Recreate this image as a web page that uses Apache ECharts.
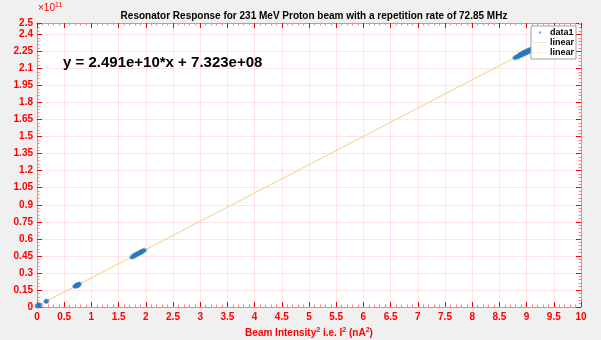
<!DOCTYPE html>
<html>
<head>
<meta charset="utf-8">
<script src="https://cdn.jsdelivr.net/npm/echarts@6/dist/echarts.min.js"></script>
<style>
  html, body { margin: 0; padding: 0; background: #f0f0f0; }
  #chart { width: 601px; height: 340px; }
</style>
</head>
<body>
<div id="chart"></div>
<script>
// Measured beam intensity squared (nA^2) and resonator DDC^2 readings
const beamIntensitySq = [
  0.005, 0.01, 0.02, 0.03, 0.04, 0.05, 0.165, 0.17, 0.18,
  0.69, 0.71, 0.72, 0.72, 0.73, 0.74, 0.74, 0.75, 0.76, 0.76, 0.77, 0.78,
  1.74, 1.76, 1.77, 1.78, 1.79, 1.80, 1.81, 1.82, 1.83, 1.84, 1.85, 1.86, 1.87,
  1.88, 1.89, 1.90, 1.91, 1.92, 1.93, 1.94, 1.96, 1.98,
  8.78, 8.80, 8.82, 8.84, 8.85, 8.86, 8.87, 8.88, 8.89, 8.90, 8.90, 8.91, 8.92,
  8.93, 8.93, 8.94, 8.95, 8.95, 8.96, 8.97, 8.97, 8.98, 8.99, 8.99, 9.00, 9.01,
  9.01, 9.02, 9.03, 9.03, 9.04, 9.05, 9.05, 9.06, 9.07, 9.08, 9.09, 9.10, 9.11, 9.12
];
const ddcSq = [
  0.008e11, 0.010e11, 0.012e11, 0.015e11, 0.017e11, 0.020e11, 0.049e11, 0.050e11, 0.052e11,
  0.181e11, 0.185e11, 0.186e11, 0.189e11, 0.190e11, 0.186e11, 0.192e11, 0.194e11, 0.196e11, 0.197e11, 0.200e11, 0.202e11,
  0.437e11, 0.446e11, 0.443e11, 0.452e11, 0.449e11, 0.455e11, 0.458e11, 0.461e11, 0.463e11, 0.466e11, 0.468e11, 0.470e11, 0.473e11,
  0.476e11, 0.478e11, 0.480e11, 0.484e11, 0.486e11, 0.488e11, 0.491e11, 0.496e11, 0.500e11,
  2.193e11, 2.196e11, 2.205e11, 2.199e11, 2.212e11, 2.208e11, 2.221e11, 2.215e11, 2.219e11, 2.226e11, 2.214e11, 2.230e11, 2.225e11,
  2.236e11, 2.221e11, 2.233e11, 2.241e11, 2.228e11, 2.238e11, 2.245e11, 2.232e11, 2.242e11, 2.250e11, 2.236e11, 2.247e11, 2.255e11,
  2.241e11, 2.252e11, 2.259e11, 2.246e11, 2.256e11, 2.262e11, 2.250e11, 2.259e11, 2.266e11, 2.261e11, 2.270e11, 2.266e11, 2.274e11, 2.279e11
];

// Linear fit coefficients
const fitSlope = 2.491e10;
const fitIntercept = 7.323e8;
const fitRange = [0, 10];

// Axis settings
const xMin = 0, xMax = 10, xStep = 0.5;
const yMin = 0, yMax = 2.5e11, yStep = 1.5e10;
const yExponent = 1e11;

const titleText = 'Resonator Response for 231 MeV Proton beam with a repetition rate of 72.85 MHz';
const equationText = 'y = 2.491e+10*x + 7.323e+08';

const scatterPoints = beamIntensitySq.map((x, i) => [x, ddcSq[i]]);
const fitLine = fitRange.map(x => [x, fitSlope * x + fitIntercept]);

const RED = '#ff0000';
const AXIS_RED = '#ff8080';
const GRID_RED = 'rgba(255,0,0,0.1)';
const FONT = '"Liberation Sans", Arial, sans-serif';

const chart = echarts.init(document.getElementById('chart'), null, { renderer: 'canvas' });

const tickCommon = {
  axisLine: { show: true, onZero: false, lineStyle: { color: AXIS_RED, width: 1 } },
  axisTick: { show: true, inside: true, length: 5, lineStyle: { color: RED, width: 1 } },
  minorTick: { show: true, splitNumber: 5, length: 2.5, lineStyle: { color: AXIS_RED, width: 1 } }
};

const asterisk = 'path://M0,-10L0,10M-10,0L10,0M-7,-7L7,7M-7,7L7,-7';
// legend icons: a thin centred stroke, with tiny corner specks fixing the bounding box
const lineIcon = 'path://M0,0L0.01,0L0.01,0.01Z M0,4.5L20,4.5L20,5.5L0,5.5Z M19.99,9.99L20,9.99L20,10L19.99,10Z';
const dotIcon = 'path://M0,0L0.01,0L0.01,0.01Z M8.5,3.5L11.5,3.5L11.5,6.5L8.5,6.5Z M19.99,9.99L20,9.99L20,10L19.99,10Z';

chart.setOption({
  animation: false,
  backgroundColor: '#f0f0f0',
  title: {
    text: titleText,
    left: 309, textAlign: 'center',
    top: 6,
    textStyle: { fontFamily: FONT, fontSize: 10, fontWeight: 'bold', color: '#000' }
  },
  grid: {
    left: 37, right: 20, top: 23, bottom: 33,
    containLabel: false, outerBoundsMode: 'none',
    show: true, backgroundColor: '#fff', borderWidth: 0
  },
  legend: {
    orient: 'vertical',
    right: 25, top: 26,
    backgroundColor: '#fff',
    borderColor: '#a0a0a0', borderWidth: 1, borderRadius: 0,
    padding: [2, 2, 2, 2],
    itemGap: 1, itemWidth: 14, itemHeight: 8,
    data: [
      { name: 'data1', icon: dotIcon, itemStyle: { color: '#4a90d0', borderWidth: 0 } },
      { name: 'linear1', icon: lineIcon, itemStyle: { color: '#f7cd8a', borderWidth: 0 } },
      { name: 'linear2', icon: lineIcon, itemStyle: { color: '#f9dba6', borderWidth: 0 } }
    ],
    formatter: n => (n === 'data1' ? 'data1' : 'linear'),
    textStyle: { fontFamily: FONT, fontSize: 9, fontWeight: 'bold', color: '#000', padding: [0, 0, 0, -2] }
  },
  xAxis: [
    Object.assign({
      type: 'value', min: xMin, max: xMax, interval: xStep, position: 'bottom',
      name: '{t|Beam Intensity}{s|2}{t| i.e. I}{s|2}{t| (nA}{s|2}{t|)}',
      nameLocation: 'middle', nameGap: 19,
      nameTextStyle: {
        rich: {
          t: { fontFamily: FONT, fontSize: 10, fontWeight: 'bold', color: RED },
          s: { fontFamily: FONT, fontSize: 7, fontWeight: 'bold', color: RED, verticalAlign: 'top', padding: [0, 0, 6, 0] }
        }
      },
      axisLabel: { color: RED, fontFamily: FONT, fontSize: 10, fontWeight: 'bold', margin: 5 },
      splitLine: { show: true, lineStyle: { color: GRID_RED, width: 1 } }
    }, tickCommon),
    Object.assign({
      type: 'value', min: xMin, max: xMax, interval: xStep, position: 'top',
      axisLabel: { show: false }, splitLine: { show: false }
    }, tickCommon)
  ],
  yAxis: [
    Object.assign({
      type: 'value', min: yMin, max: yMax, interval: yStep, position: 'left',
      name: '{t|DDC}{s|2}',
      nameLocation: 'middle', nameGap: 20, nameRotate: 90,
      nameTextStyle: {
        rich: {
          t: { fontFamily: FONT, fontSize: 10, fontWeight: 'bold', color: RED },
          s: { fontFamily: FONT, fontSize: 7, fontWeight: 'bold', color: RED, verticalAlign: 'top', padding: [0, 0, 6, 0] }
        }
      },
      axisLabel: {
        color: RED, fontFamily: FONT, fontSize: 10, fontWeight: 'bold', margin: 4,
        formatter: v => (v === 0 ? '0' : String(+(v / yExponent).toFixed(2)))
      },
      splitLine: { show: true, lineStyle: { color: GRID_RED, width: 1 } }
    }, tickCommon),
    Object.assign({
      type: 'value', min: yMin, max: yMax, interval: yStep, position: 'right',
      axisLabel: { show: false }, splitLine: { show: false }
    }, tickCommon)
  ],
  graphic: [
    {
      type: 'text', left: 38, top: 2,
      style: {
        text: '{t|×10}{s|11}',
        rich: {
          t: { fontFamily: FONT, fontSize: 10, fill: RED, fontWeight: 'normal' },
          s: { fontFamily: FONT, fontSize: 7, fill: RED, verticalAlign: 'top', padding: [0, 0, 5, 0] }
        }
      }
    },
    {
      type: 'text', left: 63, top: 55,
      style: { text: equationText, fontFamily: FONT, fontSize: 15, fontWeight: 'bold', fill: '#000' }
    }
  ],
  series: [
    {
      name: 'data1', type: 'scatter', xAxisIndex: 0, yAxisIndex: 0,
      data: scatterPoints,
      symbol: asterisk, symbolSize: 5,
      itemStyle: { color: 'rgba(0,114,189,0.0)', borderColor: '#2a78bb', borderWidth: 1, opacity: 0.8 },
      z: 3
    },
    {
      name: 'linear1', type: 'line', xAxisIndex: 0, yAxisIndex: 0,
      data: fitLine, showSymbol: false, symbol: 'none',
      lineStyle: { color: '#f7cd8a', width: 1 },
      z: 2
    },
    {
      name: 'linear2', type: 'line', xAxisIndex: 0, yAxisIndex: 0,
      data: fitLine, showSymbol: false, symbol: 'none',
      lineStyle: { color: '#f9dba6', width: 1, opacity: 0.6 },
      z: 2
    }
  ]
});
</script>
</body>
</html>
